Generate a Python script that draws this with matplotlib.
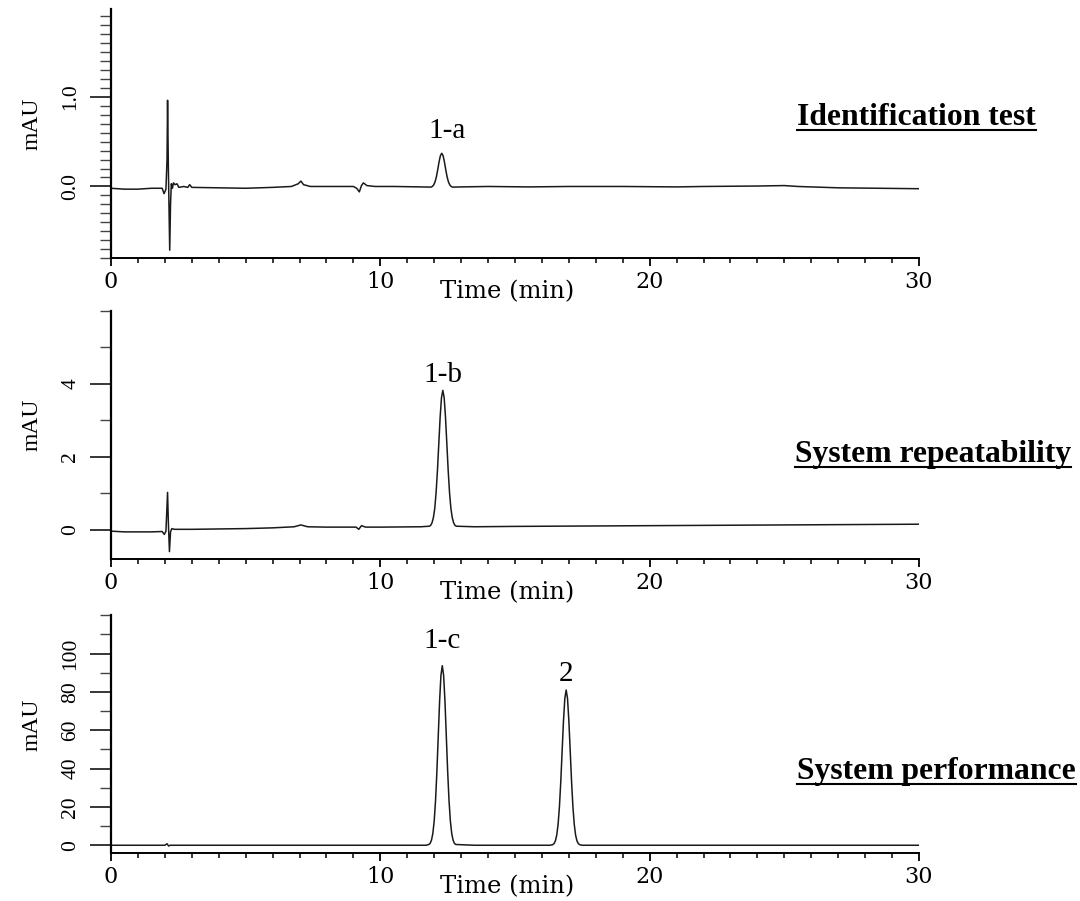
import matplotlib
matplotlib.use('Agg')
import matplotlib.pyplot as plt
from matplotlib.lines import Line2D
from matplotlib.ticker import FixedLocator, MultipleLocator, FormatStrFormatter

plt.rcParams['font.family'] = ['Liberation Serif', 'DejaVu Serif']

# ---- data (time in min, signal in mAU) ----
ident_time = [0.0, 0.5, 1.0, 1.5, 1.9, 1.97, 2.04, 2.08, 2.10, 2.13, 2.18,
              2.21, 2.24, 2.28, 2.32, 2.38, 2.45, 2.52, 2.7, 2.85, 2.92, 3.0,
              4.0, 5.0, 6.0, 6.7, 6.95, 7.05, 7.15, 7.4, 8.0, 9.0, 9.12, 9.22,
              9.3, 9.37, 9.5, 9.8, 10.5, 11.5,
              11.88, 11.93, 11.98, 12.03, 12.08, 12.13, 12.18, 12.23, 12.28,
              12.33, 12.38, 12.43, 12.48, 12.53, 12.58, 12.63, 12.68,
              13.0, 14.0, 15.5, 17.0, 19.0, 21.0, 22.0, 24.0, 25.0, 25.5,
              27.0, 28.5, 30.0]
ident_mau = [-0.02, -0.03, -0.03, -0.02, -0.02, -0.08, -0.03, 0.30, 0.96, 0.20,
             -0.71, -0.20, 0.03, -0.02, 0.04, 0.02, 0.03, -0.01, 0.0, -0.01,
             0.02, -0.01, -0.015, -0.02, -0.01, 0.0, 0.03, 0.06, 0.02, 0.0,
             0.0, 0.0, -0.02, -0.06, 0.01, 0.04, 0.01, 0.0, 0.0, -0.005,
             -0.007, 0.000, 0.017, 0.050, 0.106, 0.185, 0.273, 0.343, 0.370,
             0.343, 0.273, 0.185, 0.106, 0.050, 0.017, 0.000, -0.007,
             -0.005, 0.0, -0.005, 0.0, 0.0, -0.005, 0.0, 0.005, 0.01, 0.0,
             -0.015, -0.02, -0.025]

repeat_time = [0.0, 0.5, 1.5, 1.9, 1.98, 2.04, 2.10, 2.13, 2.17, 2.21, 2.26,
               2.35, 3.0, 4.0, 5.0, 6.0, 6.8, 7.05, 7.3, 8.0, 9.1, 9.2, 9.3,
               9.45, 10.0, 11.5,
               11.82, 11.87, 11.92, 11.97, 12.02, 12.07, 12.12, 12.17, 12.22,
               12.27, 12.32, 12.37, 12.42, 12.47, 12.52, 12.57, 12.62, 12.67,
               12.72, 12.77, 12.82,
               13.5, 15.0, 20.0, 25.0, 30.0]
repeat_mau = [-0.03, -0.05, -0.05, -0.04, -0.12, -0.03, 1.03, 0.20, -0.59,
              -0.05, 0.04, 0.02, 0.02, 0.03, 0.04, 0.06, 0.09, 0.14, 0.09,
              0.08, 0.08, 0.02, 0.12, 0.08, 0.08, 0.09,
              0.105, 0.13, 0.20, 0.34, 0.59, 1.02, 1.62, 2.35, 3.08, 3.62,
              3.82, 3.62, 3.08, 2.35, 1.62, 1.02, 0.59, 0.34, 0.20, 0.13,
              0.105,
              0.09, 0.10, 0.12, 0.14, 0.16]

perf_time = [0.0, 2.0, 2.08, 2.14, 2.2, 11.7,
             11.80, 11.85, 11.90, 11.95, 12.00, 12.05, 12.10, 12.15, 12.20,
             12.25, 12.30, 12.35, 12.40, 12.45, 12.50, 12.55, 12.60, 12.65,
             12.70, 12.75, 12.80,
             13.5, 16.3,
             16.40, 16.45, 16.50, 16.55, 16.60, 16.65, 16.70, 16.75, 16.80,
             16.85, 16.90, 16.95, 17.00, 17.05, 17.10, 17.15, 17.20, 17.25,
             17.30, 17.35, 17.40,
             17.5, 30.0]
perf_mau = [0.0, 0.0, 0.8, -0.4, 0.0, 0.0,
            0.4, 1.0, 2.7, 6.2, 12.7, 23.4, 38.5, 56.8, 75.0, 88.6, 93.7,
            88.6, 75.0, 56.8, 38.5, 23.4, 12.7, 6.2, 2.7, 1.0, 0.4,
            0.0, 0.0,
            0.3, 0.9, 2.3, 5.3, 10.9, 20.2, 33.3, 49.2, 64.9, 76.6, 81.0,
            76.6, 64.9, 49.2, 33.3, 20.2, 10.9, 5.3, 2.3, 0.9, 0.3,
            0.0, 0.0]

# peak labels: (text, time, mAU at text baseline)
ident_labels = [('1-a', 12.47, 0.536)]
repeat_labels = [('1-b', 12.33, 4.04)]
perf_labels = [('1-c', 12.31, 103.1), ('2', 16.90, 85.7)]

panel_titles = ['Identification test', 'System repeatability', 'System performance']

# ---- figure ----
FIG_W, FIG_H = 1080, 901
fig = plt.figure(figsize=(FIG_W / 100, FIG_H / 100), dpi=100)


def px_axes(left, top, right, bottom):
    return fig.add_axes([left / FIG_W, 1 - bottom / FIG_H,
                         (right - left) / FIG_W, (bottom - top) / FIG_H])


def style_axes(ax, ylim, major, minor_step, fmt, top_px, bottom_px, label_y_px):
    height_px = bottom_px - top_px
    ax.set_xlim(0, 30)
    ax.set_ylim(*ylim)
    for s in ['top', 'right']:
        ax.spines[s].set_visible(False)
    ax.spines['left'].set_linewidth(1.6)
    ax.spines['bottom'].set_linewidth(1.4)

    ax.xaxis.set_major_locator(MultipleLocator(10))
    ax.xaxis.set_minor_locator(MultipleLocator(1))
    ax.yaxis.set_major_locator(FixedLocator(major))
    ax.yaxis.set_minor_locator(MultipleLocator(minor_step))
    ax.yaxis.set_major_formatter(FormatStrFormatter(fmt))

    ax.tick_params(axis='x', which='major', length=6, width=1.3, pad=3.5,
                   labelsize=16, labelfontfamily='DejaVu Serif')
    ax.tick_params(axis='x', which='minor', length=3.6, width=1.1)
    ax.tick_params(axis='y', which='major', length=15, width=1.1, pad=7,
                   labelsize=15.5, labelrotation=90)
    ax.tick_params(axis='y', which='minor', length=8, width=1.0, color='#444444')
    plt.setp(ax.get_yticklabels(), va='center')

    ax.set_xlabel('Time (min)', fontsize=17.5, fontfamily='DejaVu Serif')
    ax.xaxis.set_label_coords(14.69 / 30, -39.5 / height_px)
    ax.xaxis.label.set_va('baseline')

    ax.set_ylabel('mAU', fontsize=17)
    ax.yaxis.set_label_coords((37 - 111) / 808, (bottom_px - label_y_px) / height_px)
    ax.yaxis.label.set_va('baseline')


ax1 = px_axes(111, 8.7, 919, 258.3)
ax2 = px_axes(111, 310.7, 919, 559.3)
ax3 = px_axes(111, 615.3, 919, 853.3)

style_axes(ax1, (-0.8, 1.98), [0.0, 1.0], 0.1, '%.1f', 8.7, 258.3, 124)
style_axes(ax2, (-0.8, 6.0), [0, 2, 4], 1, '%d', 310.7, 559.3, 425)
style_axes(ax3, (-4.2, 120), [0, 20, 40, 60, 80, 100], 10, '%d', 615.3, 853.3, 725)

trace_kw = dict(color='#1a1a1a', lw=1.1)
ax1.plot(ident_time, ident_mau, **trace_kw)
ax2.plot(repeat_time, repeat_mau, **trace_kw)
ax3.plot(perf_time, perf_mau, **trace_kw)

for ax, labels in [(ax1, ident_labels), (ax2, repeat_labels), (ax3, perf_labels)]:
    for s, x, y in labels:
        ax.text(x, y, s, fontsize=21, ha='center', va='baseline')

# panel titles, bold and underlined
title_pos = [(797, 125), (795, 462), (797, 779)]
title_texts = []
for s, (x, y) in zip(panel_titles, title_pos):
    t = fig.text(x / FIG_W, 1 - y / FIG_H, s, fontsize=22.8, fontweight='bold',
                 ha='left', va='baseline')
    title_texts.append((t, y))

fig.canvas.draw()
for t, y in title_texts:
    bb = t.get_window_extent()
    yl = (FIG_H - y - 4.5) / FIG_H
    fig.add_artist(Line2D([bb.x0 / FIG_W, bb.x1 / FIG_W], [yl, yl],
                          transform=fig.transFigure, color='black', lw=1.5))

fig.savefig('out.png', dpi=100)
